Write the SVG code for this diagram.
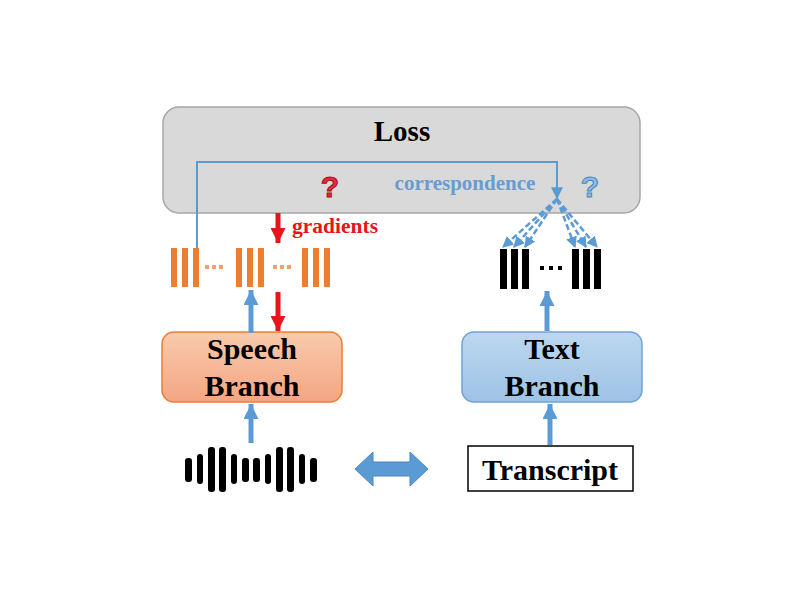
<svg xmlns="http://www.w3.org/2000/svg" width="800" height="600" viewBox="0 0 800 600">
<defs>
<style>
.t{font-family:"Liberation Serif","Times New Roman",serif;font-weight:bold;}
.q{font-family:"Liberation Sans",Arial,sans-serif;font-weight:bold;}
.arr{stroke:#5b9bd5;stroke-width:5;fill:none;}
.rarr{stroke:#e8141b;stroke-width:5;fill:none;}
.bar{fill:#000;}
.obar{fill:#ed7d31;}
.dash{stroke:#5b9bd5;stroke-width:2.5;stroke-dasharray:6 3;fill:none;}
</style>
<linearGradient id="gOr" x1="0" y1="0" x2="0" y2="1">
<stop offset="0" stop-color="#f8cbad"/><stop offset="1" stop-color="#f4a582"/>
</linearGradient>
<linearGradient id="gBl" x1="0" y1="0" x2="0" y2="1">
<stop offset="0" stop-color="#bdd7ee"/><stop offset="1" stop-color="#9dc3e6"/>
</linearGradient>
<marker id="mb" viewBox="0 0 10 10" refX="10" refY="5" markerWidth="3" markerHeight="3" orient="auto" markerUnits="strokeWidth">
<path d="M0,0 L10,5 L0,10 z" fill="#5b9bd5"/>
</marker>
<marker id="mr" viewBox="0 0 10 10" refX="10" refY="5" markerWidth="3" markerHeight="3" orient="auto" markerUnits="strokeWidth">
<path d="M0,0 L10,5 L0,10 z" fill="#e8141b"/>
</marker>
<marker id="md" viewBox="0 0 10 10" refX="9" refY="5" markerWidth="4.5" markerHeight="4.5" orient="auto" markerUnits="strokeWidth">
<path d="M0,0 L10,5 L0,10 z" fill="#5b9bd5"/>
</marker>
<marker id="ms" viewBox="0 0 10 10" refX="9" refY="5" markerWidth="6" markerHeight="6" orient="auto" markerUnits="strokeWidth">
<path d="M0,0 L10,5 L0,10 z" fill="#5b9bd5"/>
</marker>
</defs>
<rect width="800" height="600" fill="#fff"/>

<g id="loss">
<rect x="163" y="107" width="477" height="106" rx="16" fill="#d9d9d9" stroke="#a6a6a6" stroke-width="1.5"/>
<text class="t" x="402" y="141" font-size="29" text-anchor="middle" fill="#000">Loss</text>
<text class="q" x="330" y="197" font-size="30" text-anchor="middle" fill="#e8283a" stroke="#a01020" stroke-width="1">?</text>
<text class="q" x="590" y="197" font-size="30" text-anchor="middle" fill="#8dbbe6" stroke="#4a86c0" stroke-width="1">?</text>
<text class="t" x="465" y="190" font-size="21" text-anchor="middle" fill="#6a9bd1">correspondence</text>
</g>

<g id="speech-features">
<rect class="obar" x="171" y="248" width="6" height="39"/>
<rect class="obar" x="182" y="248" width="6" height="39"/>
<rect class="obar" x="193" y="248" width="6" height="39"/>
<rect class="obar" x="236" y="248" width="6" height="39"/>
<rect class="obar" x="247" y="248" width="6" height="39"/>
<rect class="obar" x="258" y="248" width="6" height="39"/>
<rect class="obar" x="302" y="248" width="6" height="39"/>
<rect class="obar" x="313" y="248" width="6" height="39"/>
<rect class="obar" x="324" y="248" width="6" height="39"/>
<g fill="#f0a068">
<rect x="205" y="265" width="4" height="4"/><rect x="212" y="265" width="4" height="4"/><rect x="219" y="265" width="4" height="4"/>
<rect x="273" y="265" width="4" height="4"/><rect x="280" y="265" width="4" height="4"/><rect x="287" y="265" width="4" height="4"/>
</g>
</g>

<g id="text-features">
<rect class="bar" x="500" y="249" width="7" height="40"/>
<rect class="bar" x="511" y="249" width="7" height="40"/>
<rect class="bar" x="522" y="249" width="7" height="40"/>
<rect class="bar" x="572" y="249" width="7" height="40"/>
<rect class="bar" x="583" y="249" width="7" height="40"/>
<rect class="bar" x="594" y="249" width="7" height="40"/>
<rect class="bar" x="540" y="266" width="4" height="4"/>
<rect class="bar" x="549" y="266" width="4" height="4"/>
<rect class="bar" x="558" y="266" width="4" height="4"/>
</g>

<g id="speech-branch">
<rect x="162" y="332" width="180" height="70" rx="12" fill="url(#gOr)" stroke="#ed7d31" stroke-width="1.5"/>
<text class="t" x="252" y="359" font-size="30" text-anchor="middle" fill="#000">Speech</text>
<text class="t" x="252" y="396" font-size="30" text-anchor="middle" fill="#000">Branch</text>
</g>

<g id="text-branch">
<rect x="462" y="332" width="180" height="70" rx="12" fill="url(#gBl)" stroke="#6fa3d8" stroke-width="1.5"/>
<text class="t" x="552" y="359" font-size="30" text-anchor="middle" fill="#000">Text</text>
<text class="t" x="552" y="396" font-size="30" text-anchor="middle" fill="#000">Branch</text>
</g>

<g id="waveform" fill="#000">
<rect x="185" y="458" width="7" height="24" rx="3"/>
<rect x="197" y="454" width="6" height="30" rx="3"/>
<rect x="208" y="447" width="7" height="45" rx="3"/>
<rect x="219" y="447" width="7" height="45" rx="3"/>
<rect x="231" y="454" width="6" height="30" rx="3"/>
<rect x="242" y="458" width="7" height="24" rx="3"/>
<rect x="253" y="458" width="7" height="24" rx="3"/>
<rect x="265" y="454" width="6" height="30" rx="3"/>
<rect x="276" y="447" width="7" height="45" rx="3"/>
<rect x="287" y="447" width="7" height="45" rx="3"/>
<rect x="299" y="454" width="6" height="30" rx="3"/>
<rect x="310" y="458" width="7" height="24" rx="3"/>
</g>

<g id="transcript">
<rect x="468" y="446" width="165" height="45" fill="#fff" stroke="#000" stroke-width="1.5"/>
<text class="t" x="550" y="480" font-size="30" text-anchor="middle" fill="#000">Transcript</text>
</g>

<g id="connectors">
<path d="M197,248 V162 H557 V198" stroke="#5b9bd5" stroke-width="2" fill="none" marker-end="url(#ms)"/>
<path class="dash" d="M557,199 L503,247" marker-end="url(#md)"/>
<path class="dash" d="M557,199 L514,247" marker-end="url(#md)"/>
<path class="dash" d="M557,199 L525,247" marker-end="url(#md)"/>
<path class="dash" d="M557,199 L575,247" marker-end="url(#md)"/>
<path class="dash" d="M557,199 L586,247" marker-end="url(#md)"/>
<path class="dash" d="M557,199 L597,247" marker-end="url(#md)"/>
<path class="rarr" d="M278,213 V243" marker-end="url(#mr)"/>
<text class="t" x="292" y="233" font-size="21.5" fill="#e8141b">gradients</text>
<path class="rarr" d="M278,292 V331" marker-end="url(#mr)"/>
<path class="arr" d="M251,333 V290" marker-end="url(#mb)"/>
<path class="arr" d="M251,443 V404" marker-end="url(#mb)"/>
<path class="arr" d="M547,331 V291" marker-end="url(#mb)"/>
<path class="arr" d="M550,445 V404" marker-end="url(#mb)"/>
<path d="M355,469 L373,452 V462 H410 V452 L428,469 L410,486 V476 H373 V486 Z" fill="#5b9bd5" stroke="#4a86c0" stroke-width="1"/>
</g>
</svg>
